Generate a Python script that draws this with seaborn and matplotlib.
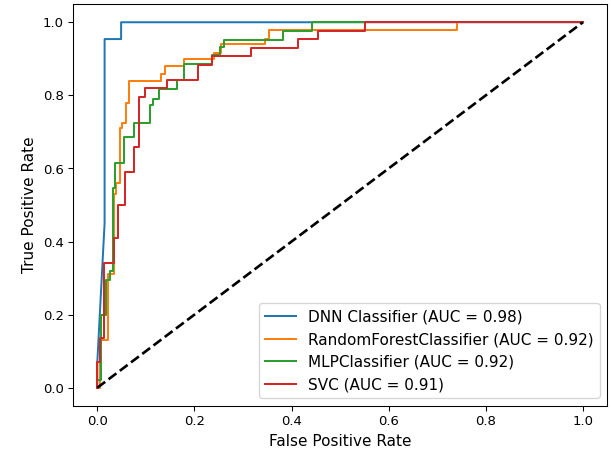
import matplotlib
matplotlib.use("Agg")
import matplotlib.pyplot as plt
import seaborn as sns

# ROC points (fpr, tpr corner points like roc_curve gives)
dnn_fpr = [0.0, 0.0, 0.013, 0.015, 0.015, 0.049, 0.049, 1.0]
dnn_tpr = [0.0, 0.07, 0.40, 0.45, 0.954, 0.954, 1.0, 1.0]

rf_fpr = [0.0, 0.006, 0.006, 0.021, 0.021, 0.035, 0.035, 0.039, 0.039, 0.046, 0.046,
          0.051, 0.051, 0.060, 0.060, 0.066, 0.066, 0.132, 0.132, 0.139, 0.139,
          0.179, 0.179, 0.241, 0.241, 0.255, 0.255, 0.346, 0.346, 0.353, 0.353,
          0.741, 0.741, 1.0]
rf_tpr = [0.0, 0.0, 0.13, 0.13, 0.31, 0.31, 0.53, 0.53, 0.56, 0.56, 0.71,
          0.71, 0.725, 0.725, 0.78, 0.78, 0.84, 0.84, 0.858, 0.858, 0.88,
          0.88, 0.90, 0.90, 0.917, 0.917, 0.94, 0.94, 0.955, 0.955, 0.978,
          0.978, 1.0, 1.0]

mlp_fpr = [0.0, 0.0, 0.008, 0.008, 0.018, 0.018, 0.027, 0.027, 0.033, 0.033, 0.037,
           0.037, 0.054, 0.054, 0.075, 0.075, 0.108, 0.108, 0.114, 0.114, 0.127,
           0.127, 0.165, 0.165, 0.179, 0.179, 0.236, 0.236, 0.252, 0.252, 0.26,
           0.26, 0.383, 0.383, 0.443, 0.443, 1.0]
mlp_tpr = [0.0, 0.02, 0.02, 0.2, 0.2, 0.295, 0.295, 0.32, 0.32, 0.546, 0.546,
           0.615, 0.615, 0.685, 0.685, 0.725, 0.725, 0.773, 0.773, 0.79, 0.79,
           0.818, 0.818, 0.842, 0.842, 0.885, 0.885, 0.91, 0.91, 0.933, 0.933,
           0.951, 0.951, 0.976, 0.976, 1.0, 1.0]

svc_fpr = [0.0, 0.0, 0.005, 0.005, 0.013, 0.013, 0.034, 0.034, 0.042, 0.042, 0.056,
           0.056, 0.076, 0.076, 0.086, 0.086, 0.099, 0.099, 0.143, 0.143, 0.207,
           0.207, 0.237, 0.237, 0.316, 0.316, 0.414, 0.414, 0.455, 0.455, 0.551,
           0.551, 1.0]
svc_tpr = [0.0, 0.07, 0.07, 0.137, 0.137, 0.342, 0.342, 0.41, 0.41, 0.5, 0.5,
           0.591, 0.591, 0.66, 0.66, 0.796, 0.796, 0.819, 0.819, 0.842, 0.842,
           0.883, 0.883, 0.907, 0.907, 0.93, 0.93, 0.953, 0.953, 0.976, 0.976,
           1.0, 1.0]

labels = ["DNN Classifier (AUC = 0.98)",
          "RandomForestClassifier (AUC = 0.92)",
          "MLPClassifier (AUC = 0.92)",
          "SVC (AUC = 0.91)"]
curves = [(dnn_fpr, dnn_tpr), (rf_fpr, rf_tpr), (mlp_fpr, mlp_tpr), (svc_fpr, svc_tpr)]
colors = sns.color_palette("tab10", 4)

fig, ax = plt.subplots(figsize=(6.4, 4.755), dpi=95.5)
fig.subplots_adjust(left=0.1195, right=0.9934, bottom=0.1057, top=0.991)

for (fpr, tpr), lab, col in zip(curves, labels, colors):
    sns.lineplot(x=fpr, y=tpr, label=lab, color=col, sort=False,
                 estimator=None, ax=ax, linewidth=1.5)

ax.plot([0, 1], [0, 1], "k--", linewidth=2)
ax.set_xlabel("False Positive Rate", fontsize=11.5)
ax.set_ylabel("True Positive Rate", fontsize=11.5)
ax.legend(loc="lower right", fontsize=11.5)

fig.savefig("out.png", dpi=95.5)
